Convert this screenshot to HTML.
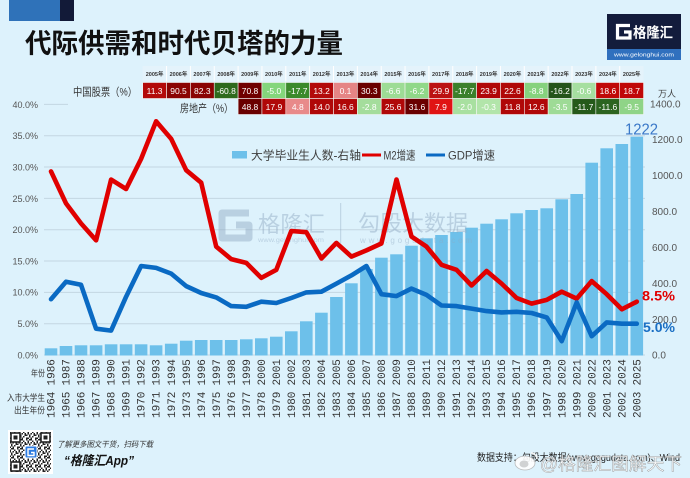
<!DOCTYPE html>
<html><head><meta charset="utf-8"><style>
html,body{margin:0;padding:0;background:#ddf2fc;}
svg{display:block;}
text{font-family:"Liberation Sans","Noto Sans CJK SC",sans-serif;}
.mono{font-family:"Liberation Mono","DejaVu Sans Mono",monospace;font-size:11px;fill:#333;}
.ct{font-size:8.5px;fill:#fff;text-anchor:middle;}
.hd{font-size:5.5px;fill:#333;text-anchor:middle;font-weight:bold;}
.la{font-size:9px;fill:#555;text-anchor:end;}
.ra{font-size:10px;fill:#555;}
</style></head><body>
<svg width="690" height="478" viewBox="0 0 690 478" xmlns="http://www.w3.org/2000/svg">
<rect width="690" height="478" fill="#ddf2fc"/>
<!-- top-left bars -->
<rect x="9" y="0" width="51" height="21" fill="#2f72b9"/>
<rect x="60" y="0" width="14" height="21" fill="#121a38"/>
<!-- title -->
<text x="25" y="53" font-size="27" font-weight="bold" fill="#111" textLength="318" lengthAdjust="spacingAndGlyphs" style="font-family:'Noto Sans CJK SC','WenQuanYi Zen Hei',sans-serif;">代际供需和时代贝塔的力量</text>
<!-- logo -->
<rect x="607" y="14" width="74" height="46" fill="#131c3c"/>
<rect x="607" y="49" width="74" height="11" fill="#3070be"/>
<path d="M630,25.5 H617.5 V38 H630 V32 H624" fill="none" stroke="#fff" stroke-width="3.2"/>
<text x="633" y="37.5" font-size="14" font-weight="bold" fill="#fff" textLength="40" lengthAdjust="spacingAndGlyphs">格隆汇</text>
<text x="614" y="56.5" font-size="5.5" fill="#fff" textLength="60" lengthAdjust="spacingAndGlyphs">www.gelonghui.com</text>

<!-- table header -->
<g>
<rect x="142.7" y="66" width="500.9" height="15.5" fill="#e4f3fb"/>
<g stroke="#ffffff" stroke-width="1">
<line x1="166.55" y1="66" x2="166.55" y2="81.5"/><line x1="190.4" y1="66" x2="190.4" y2="81.5"/><line x1="214.25" y1="66" x2="214.25" y2="81.5"/><line x1="238.1" y1="66" x2="238.1" y2="81.5"/><line x1="261.95" y1="66" x2="261.95" y2="81.5"/><line x1="285.8" y1="66" x2="285.8" y2="81.5"/><line x1="309.65" y1="66" x2="309.65" y2="81.5"/><line x1="333.5" y1="66" x2="333.5" y2="81.5"/><line x1="357.35" y1="66" x2="357.35" y2="81.5"/><line x1="381.2" y1="66" x2="381.2" y2="81.5"/><line x1="405.05" y1="66" x2="405.05" y2="81.5"/><line x1="428.9" y1="66" x2="428.9" y2="81.5"/><line x1="452.75" y1="66" x2="452.75" y2="81.5"/><line x1="476.6" y1="66" x2="476.6" y2="81.5"/><line x1="500.45" y1="66" x2="500.45" y2="81.5"/><line x1="524.3" y1="66" x2="524.3" y2="81.5"/><line x1="548.15" y1="66" x2="548.15" y2="81.5"/><line x1="572" y1="66" x2="572" y2="81.5"/><line x1="595.85" y1="66" x2="595.85" y2="81.5"/><line x1="619.7" y1="66" x2="619.7" y2="81.5"/>
</g>
<text class="hd" x="154.6" y="76">2005年</text><text class="hd" x="178.5" y="76">2006年</text><text class="hd" x="202.3" y="76">2007年</text><text class="hd" x="226.2" y="76">2008年</text><text class="hd" x="250" y="76">2009年</text><text class="hd" x="273.9" y="76">2010年</text><text class="hd" x="297.8" y="76">2011年</text><text class="hd" x="321.6" y="76">2012年</text><text class="hd" x="345.5" y="76">2013年</text><text class="hd" x="369.3" y="76">2014年</text><text class="hd" x="393.2" y="76">2015年</text><text class="hd" x="417" y="76">2016年</text><text class="hd" x="440.9" y="76">2017年</text><text class="hd" x="464.7" y="76">2018年</text><text class="hd" x="488.6" y="76">2019年</text><text class="hd" x="512.5" y="76">2020年</text><text class="hd" x="536.3" y="76">2021年</text><text class="hd" x="560.2" y="76">2022年</text><text class="hd" x="584" y="76">2023年</text><text class="hd" x="607.9" y="76">2024年</text><text class="hd" x="631.7" y="76">2025年</text>
</g>
<!-- row labels -->
<text x="73" y="95.5" font-size="11" fill="#333" textLength="64" lengthAdjust="spacingAndGlyphs">中国股票（%）</text>
<text x="180" y="112" font-size="11" fill="#333" textLength="53" lengthAdjust="spacingAndGlyphs">房地产（%）</text>
<!-- row 1 cells -->
<g stroke="#f4f4f4" stroke-width="0.6">
<rect x="142.7" y="82.5" width="23.85" height="16" fill="#b30a0a"/>
<rect x="166.55" y="82.5" width="23.85" height="16" fill="#8a0303"/>
<rect x="190.4" y="82.5" width="23.85" height="16" fill="#8a0303"/>
<rect x="214.25" y="82.5" width="23.85" height="16" fill="#2d6a1c"/>
<rect x="238.1" y="82.5" width="23.85" height="16" fill="#700000"/>
<rect x="261.95" y="82.5" width="23.85" height="16" fill="#84d67c"/>
<rect x="285.8" y="82.5" width="23.85" height="16" fill="#3b8a2b"/>
<rect x="309.65" y="82.5" width="23.85" height="16" fill="#b30a0a"/>
<rect x="333.5" y="82.5" width="23.85" height="16" fill="#e58585"/>
<rect x="357.35" y="82.5" width="23.85" height="16" fill="#6a0000"/>
<rect x="381.2" y="82.5" width="23.85" height="16" fill="#9ddc95"/>
<rect x="405.05" y="82.5" width="23.85" height="16" fill="#90d889"/>
<rect x="428.9" y="82.5" width="23.85" height="16" fill="#bb1212"/>
<rect x="452.75" y="82.5" width="23.85" height="16" fill="#3b802b"/>
<rect x="476.6" y="82.5" width="23.85" height="16" fill="#b00808"/>
<rect x="500.45" y="82.5" width="23.85" height="16" fill="#b00808"/>
<rect x="524.3" y="82.5" width="23.85" height="16" fill="#86d27e"/>
<rect x="548.15" y="82.5" width="23.85" height="16" fill="#24541a"/>
<rect x="572" y="82.5" width="23.85" height="16" fill="#a6dfa0"/>
<rect x="595.85" y="82.5" width="23.85" height="16" fill="#c00808"/>
<rect x="619.7" y="82.5" width="23.85" height="16" fill="#c00808"/>
<!-- row 2 -->
<rect x="238.1" y="98.5" width="23.85" height="16" fill="#6a0000"/>
<rect x="261.95" y="98.5" width="23.85" height="16" fill="#b00808"/>
<rect x="285.8" y="98.5" width="23.85" height="16" fill="#e88a8a"/>
<rect x="309.65" y="98.5" width="23.85" height="16" fill="#b00808"/>
<rect x="333.5" y="98.5" width="23.85" height="16" fill="#b00808"/>
<rect x="357.35" y="98.5" width="23.85" height="16" fill="#a4dd9c"/>
<rect x="381.2" y="98.5" width="23.85" height="16" fill="#b00808"/>
<rect x="405.05" y="98.5" width="23.85" height="16" fill="#6a0000"/>
<rect x="428.9" y="98.5" width="23.85" height="16" fill="#e01414"/>
<rect x="452.75" y="98.5" width="23.85" height="16" fill="#a8e0a0"/>
<rect x="476.6" y="98.5" width="23.85" height="16" fill="#b2e5aa"/>
<rect x="500.45" y="98.5" width="23.85" height="16" fill="#b00808"/>
<rect x="524.3" y="98.5" width="23.85" height="16" fill="#b00808"/>
<rect x="548.15" y="98.5" width="23.85" height="16" fill="#9edb96"/>
<rect x="572" y="98.5" width="23.85" height="16" fill="#255a1a"/>
<rect x="595.85" y="98.5" width="23.85" height="16" fill="#2c6420"/>
<rect x="619.7" y="98.5" width="23.85" height="16" fill="#8fd487"/>
</g>
<g class="ct">
<text class="ct" x="154.6" y="93.8">11.3</text><text class="ct" x="178.5" y="93.8">90.5</text><text class="ct" x="202.3" y="93.8">82.3</text><text class="ct" x="226.2" y="93.8">-60.8</text><text class="ct" x="250" y="93.8">70.8</text><text class="ct" x="273.9" y="93.8">-5.0</text><text class="ct" x="297.8" y="93.8">-17.7</text><text class="ct" x="321.6" y="93.8">13.2</text><text class="ct" x="345.5" y="93.8">0.1</text><text class="ct" x="369.3" y="93.8">30.3</text><text class="ct" x="393.2" y="93.8">-6.6</text><text class="ct" x="417" y="93.8">-6.2</text><text class="ct" x="440.9" y="93.8">29.9</text><text class="ct" x="464.7" y="93.8">-17.7</text><text class="ct" x="488.6" y="93.8">23.9</text><text class="ct" x="512.5" y="93.8">22.6</text><text class="ct" x="536.3" y="93.8">-8.8</text><text class="ct" x="560.2" y="93.8">-16.2</text><text class="ct" x="584" y="93.8">-0.6</text><text class="ct" x="607.9" y="93.8">18.6</text><text class="ct" x="631.7" y="93.8">18.7</text>
<text class="ct" x="250" y="109.8">48.8</text><text class="ct" x="273.9" y="109.8">17.9</text><text class="ct" x="297.8" y="109.8">4.8</text><text class="ct" x="321.6" y="109.8">14.0</text><text class="ct" x="345.5" y="109.8">16.6</text><text class="ct" x="369.3" y="109.8">-2.8</text><text class="ct" x="393.2" y="109.8">25.6</text><text class="ct" x="417" y="109.8">31.6</text><text class="ct" x="440.9" y="109.8">7.9</text><text class="ct" x="464.7" y="109.8">-2.0</text><text class="ct" x="488.6" y="109.8">-0.3</text><text class="ct" x="512.5" y="109.8">11.8</text><text class="ct" x="536.3" y="109.8">12.6</text><text class="ct" x="560.2" y="109.8">-3.5</text><text class="ct" x="584" y="109.8">-11.7</text><text class="ct" x="607.9" y="109.8">-11.6</text><text class="ct" x="631.7" y="109.8">-9.5</text>
</g>

<!-- gridlines -->
<g stroke="#c3d6e2" stroke-width="1">
<line x1="44" y1="104.4" x2="68" y2="104.4"/>
<line x1="44" y1="135.7" x2="645" y2="135.7"/>
<line x1="44" y1="167.05" x2="645" y2="167.05"/>
<line x1="44" y1="198.4" x2="645" y2="198.4"/>
<line x1="44" y1="229.7" x2="645" y2="229.7"/>
<line x1="44" y1="261" x2="645" y2="261"/>
<line x1="44" y1="292.35" x2="645" y2="292.35"/>
<line x1="44" y1="323.7" x2="645" y2="323.7"/>
<line x1="44" y1="355" x2="645" y2="355"/>
</g>
<!-- left axis -->
<text class="la" x="38" y="108">40.0%</text>
<text class="la" x="38" y="139">35.0%</text>
<text class="la" x="38" y="170.5">30.0%</text>
<text class="la" x="38" y="201.8">25.0%</text>
<text class="la" x="38" y="233">20.0%</text>
<text class="la" x="38" y="264.4">15.0%</text>
<text class="la" x="38" y="295.7">10.0%</text>
<text class="la" x="38" y="327">5.0%</text>
<text class="la" x="38" y="358.4">0.0%</text>
<!-- right axis -->
<text x="658" y="97" font-size="9" fill="#444">万人</text>
<text class="ra" x="650" y="107.5">1400.0</text>
<text class="ra" x="652" y="143">1200.0</text>
<text class="ra" x="652" y="179">1000.0</text>
<text class="ra" x="652" y="215">800.0</text>
<text class="ra" x="652" y="250.8">600.0</text>
<text class="ra" x="652" y="286.8">400.0</text>
<text class="ra" x="652" y="322.8">200.0</text>
<text class="ra" x="652" y="358.6">0.0</text>

<!-- bars -->
<g fill="#6dc0ea">
<rect x="44.7" y="348.3" width="12.6" height="7.2"/>
<rect x="59.7" y="346" width="12.6" height="9.5"/>
<rect x="74.7" y="345.3" width="12.6" height="10.2"/>
<rect x="89.8" y="345.3" width="12.6" height="10.2"/>
<rect x="104.8" y="344.3" width="12.6" height="11.2"/>
<rect x="119.8" y="344.3" width="12.6" height="11.2"/>
<rect x="134.8" y="344.3" width="12.6" height="11.2"/>
<rect x="149.8" y="345.3" width="12.6" height="10.2"/>
<rect x="164.9" y="343.7" width="12.6" height="11.8"/>
<rect x="179.9" y="340.7" width="12.6" height="14.8"/>
<rect x="194.9" y="340" width="12.6" height="15.5"/>
<rect x="209.9" y="340" width="12.6" height="15.5"/>
<rect x="224.9" y="340" width="12.6" height="15.5"/>
<rect x="240" y="339.3" width="12.6" height="16.2"/>
<rect x="255" y="338.3" width="12.6" height="17.2"/>
<rect x="270" y="336.7" width="12.6" height="18.8"/>
<rect x="285" y="331.3" width="12.6" height="24.2"/>
<rect x="300" y="321.3" width="12.6" height="34.2"/>
<rect x="315.1" y="312.7" width="12.6" height="42.8"/>
<rect x="330.1" y="297" width="12.6" height="58.5"/>
<rect x="345.1" y="283.3" width="12.6" height="72.2"/>
<rect x="360.1" y="269" width="12.6" height="86.5"/>
<rect x="375.1" y="257.7" width="12.6" height="97.8"/>
<rect x="390.2" y="254.3" width="12.6" height="101.2"/>
<rect x="405.2" y="245.7" width="12.6" height="109.8"/>
<rect x="420.2" y="238.3" width="12.6" height="117.2"/>
<rect x="435.2" y="235" width="12.6" height="120.5"/>
<rect x="450.2" y="232" width="12.6" height="123.5"/>
<rect x="465.3" y="227.7" width="12.6" height="127.8"/>
<rect x="480.3" y="223.7" width="12.6" height="131.8"/>
<rect x="495.3" y="219.3" width="12.6" height="136.2"/>
<rect x="510.3" y="213.3" width="12.6" height="142.2"/>
<rect x="525.3" y="210" width="12.6" height="145.5"/>
<rect x="540.4" y="208.3" width="12.6" height="147.2"/>
<rect x="555.4" y="199.3" width="12.6" height="156.2"/>
<rect x="570.4" y="194" width="12.6" height="161.5"/>
<rect x="585.4" y="162.7" width="12.6" height="192.8"/>
<rect x="600.4" y="148.3" width="12.6" height="207.2"/>
<rect x="615.5" y="144" width="12.6" height="211.5"/>
<rect x="630.5" y="136.7" width="12.6" height="218.8"/>
</g>

<!-- watermark -->
<g opacity="0.45">
<path d="M249,213 H222 V238 H249 V225 H236" fill="none" stroke="#8fa9c2" stroke-width="7" stroke-linejoin="round"/>
<text x="258" y="232" font-size="22" fill="#8fa9c2" textLength="67" lengthAdjust="spacingAndGlyphs">格隆汇</text>
<text x="258" y="242" font-size="6" fill="#8fa9c2" textLength="66" lengthAdjust="spacingAndGlyphs">www.gelonghui.com</text>
<line x1="340.7" y1="203" x2="340.7" y2="243" stroke="#8fa9c2" stroke-width="1"/>
<text x="358" y="231" font-size="22" fill="#8fa9c2" textLength="110" lengthAdjust="spacingAndGlyphs">勾股大数据</text>
<text x="360" y="243" font-size="8" fill="#8fa9c2" textLength="112" lengthAdjust="spacing">www.gogudata.com</text>
</g>

<!-- lines -->
<polyline fill="none" stroke="#e00000" stroke-width="4.6" stroke-linejoin="round" stroke-linecap="round"
points="51,171.4 66,203.4 81,223.4 96.1,240.3 111.1,179.6 126.1,189 141.1,158.9 156.1,121.3 171.2,138.9 186.2,170.2 201.2,182.7 216.2,246.6 231.2,259.1 246.3,262.9 261.3,277.9 276.3,269.8 291.3,231 306.3,232.2 321.4,258.5 336.4,242.9 351.4,256.6 366.4,250.4 381.4,243.5 396.5,179.5 411.5,236.6 426.5,246.6 441.5,264.8 456.5,269.8 471.6,285.5 486.6,271 501.6,283.6 516.6,298 531.6,303.6 546.7,299.9 561.7,291.7 576.7,298.6 591.7,281.1 606.7,294.2 621.8,309.3 636.8,301.7"/>
<polyline fill="none" stroke="#0a6ac3" stroke-width="4.6" stroke-linejoin="round" stroke-linecap="round"
points="51,299.2 66,281.7 81,284.8 96.1,328.7 111.1,330.6 126.1,296.7 141.1,266 156.1,267.9 171.2,273.6 186.2,286.1 201.2,293 216.2,297.4 231.2,306.1 246.3,306.8 261.3,301.7 276.3,303 291.3,298 306.3,292.4 321.4,291.7 336.4,283.6 351.4,275.4 366.4,266 381.4,294.2 396.5,296.1 411.5,288.6 426.5,294.9 441.5,305.5 456.5,306.1 471.6,308.6 486.6,311.1 501.6,312.4 516.6,311.8 531.6,313 546.7,317.4 561.7,341.2 576.7,302.4 591.7,336.2 606.7,322.4 621.8,323.7 636.8,323.7"/>

<!-- end labels -->
<text x="625" y="134.5" font-size="16" fill="#3a78c8" textLength="33" lengthAdjust="spacingAndGlyphs">1222</text>
<text x="642" y="300.5" font-size="14" font-weight="bold" fill="#e00000" textLength="33" lengthAdjust="spacingAndGlyphs">8.5%</text>
<text x="643" y="331.8" font-size="14" font-weight="bold" fill="#1a6fc4" textLength="32" lengthAdjust="spacingAndGlyphs">5.0%</text>

<!-- legend -->
<rect x="232" y="151" width="15" height="7.5" fill="#6dc0ea"/>
<text x="251" y="159.5" font-size="12" fill="#404040" textLength="110" lengthAdjust="spacingAndGlyphs">大学毕业生人数-右轴</text>
<line x1="362" y1="155" x2="381" y2="155" stroke="#e00000" stroke-width="3"/>
<text x="383.5" y="159.5" font-size="12" fill="#404040" textLength="32" lengthAdjust="spacingAndGlyphs">M2增速</text>
<line x1="426" y1="155" x2="445" y2="155" stroke="#0a6ac3" stroke-width="3"/>
<text x="448" y="159.5" font-size="12" fill="#404040" textLength="47" lengthAdjust="spacingAndGlyphs">GDP增速</text>

<!-- x labels row 1 -->
<g class="mono">
<text class="mono" transform="translate(54.6,385.5) rotate(-90)">1986</text>
<text class="mono" transform="translate(69.6,385.5) rotate(-90)">1987</text>
<text class="mono" transform="translate(84.6,385.5) rotate(-90)">1988</text>
<text class="mono" transform="translate(99.7,385.5) rotate(-90)">1989</text>
<text class="mono" transform="translate(114.7,385.5) rotate(-90)">1990</text>
<text class="mono" transform="translate(129.7,385.5) rotate(-90)">1991</text>
<text class="mono" transform="translate(144.7,385.5) rotate(-90)">1992</text>
<text class="mono" transform="translate(159.7,385.5) rotate(-90)">1993</text>
<text class="mono" transform="translate(174.8,385.5) rotate(-90)">1994</text>
<text class="mono" transform="translate(189.8,385.5) rotate(-90)">1995</text>
<text class="mono" transform="translate(204.8,385.5) rotate(-90)">1996</text>
<text class="mono" transform="translate(219.8,385.5) rotate(-90)">1997</text>
<text class="mono" transform="translate(234.8,385.5) rotate(-90)">1998</text>
<text class="mono" transform="translate(249.9,385.5) rotate(-90)">1999</text>
<text class="mono" transform="translate(264.9,385.5) rotate(-90)">2000</text>
<text class="mono" transform="translate(279.9,385.5) rotate(-90)">2001</text>
<text class="mono" transform="translate(294.9,385.5) rotate(-90)">2002</text>
<text class="mono" transform="translate(309.9,385.5) rotate(-90)">2003</text>
<text class="mono" transform="translate(325,385.5) rotate(-90)">2004</text>
<text class="mono" transform="translate(340,385.5) rotate(-90)">2005</text>
<text class="mono" transform="translate(355,385.5) rotate(-90)">2006</text>
<text class="mono" transform="translate(370,385.5) rotate(-90)">2007</text>
<text class="mono" transform="translate(385,385.5) rotate(-90)">2008</text>
<text class="mono" transform="translate(400.1,385.5) rotate(-90)">2009</text>
<text class="mono" transform="translate(415.1,385.5) rotate(-90)">2010</text>
<text class="mono" transform="translate(430.1,385.5) rotate(-90)">2011</text>
<text class="mono" transform="translate(445.1,385.5) rotate(-90)">2012</text>
<text class="mono" transform="translate(460.1,385.5) rotate(-90)">2013</text>
<text class="mono" transform="translate(475.2,385.5) rotate(-90)">2014</text>
<text class="mono" transform="translate(490.2,385.5) rotate(-90)">2015</text>
<text class="mono" transform="translate(505.2,385.5) rotate(-90)">2016</text>
<text class="mono" transform="translate(520.2,385.5) rotate(-90)">2017</text>
<text class="mono" transform="translate(535.2,385.5) rotate(-90)">2018</text>
<text class="mono" transform="translate(550.3,385.5) rotate(-90)">2019</text>
<text class="mono" transform="translate(565.3,385.5) rotate(-90)">2020</text>
<text class="mono" transform="translate(580.3,385.5) rotate(-90)">2021</text>
<text class="mono" transform="translate(595.3,385.5) rotate(-90)">2022</text>
<text class="mono" transform="translate(610.3,385.5) rotate(-90)">2023</text>
<text class="mono" transform="translate(625.4,385.5) rotate(-90)">2024</text>
<text class="mono" transform="translate(640.4,385.5) rotate(-90)">2025</text>
<!-- row 2 -->
<text class="mono" transform="translate(54.6,418) rotate(-90)">1964</text>
<text class="mono" transform="translate(69.6,418) rotate(-90)">1965</text>
<text class="mono" transform="translate(84.6,418) rotate(-90)">1966</text>
<text class="mono" transform="translate(99.7,418) rotate(-90)">1967</text>
<text class="mono" transform="translate(114.7,418) rotate(-90)">1968</text>
<text class="mono" transform="translate(129.7,418) rotate(-90)">1969</text>
<text class="mono" transform="translate(144.7,418) rotate(-90)">1970</text>
<text class="mono" transform="translate(159.7,418) rotate(-90)">1971</text>
<text class="mono" transform="translate(174.8,418) rotate(-90)">1972</text>
<text class="mono" transform="translate(189.8,418) rotate(-90)">1973</text>
<text class="mono" transform="translate(204.8,418) rotate(-90)">1974</text>
<text class="mono" transform="translate(219.8,418) rotate(-90)">1975</text>
<text class="mono" transform="translate(234.8,418) rotate(-90)">1976</text>
<text class="mono" transform="translate(249.9,418) rotate(-90)">1977</text>
<text class="mono" transform="translate(264.9,418) rotate(-90)">1978</text>
<text class="mono" transform="translate(279.9,418) rotate(-90)">1979</text>
<text class="mono" transform="translate(294.9,418) rotate(-90)">1980</text>
<text class="mono" transform="translate(309.9,418) rotate(-90)">1981</text>
<text class="mono" transform="translate(325,418) rotate(-90)">1982</text>
<text class="mono" transform="translate(340,418) rotate(-90)">1983</text>
<text class="mono" transform="translate(355,418) rotate(-90)">1984</text>
<text class="mono" transform="translate(370,418) rotate(-90)">1985</text>
<text class="mono" transform="translate(385,418) rotate(-90)">1986</text>
<text class="mono" transform="translate(400.1,418) rotate(-90)">1987</text>
<text class="mono" transform="translate(415.1,418) rotate(-90)">1988</text>
<text class="mono" transform="translate(430.1,418) rotate(-90)">1989</text>
<text class="mono" transform="translate(445.1,418) rotate(-90)">1990</text>
<text class="mono" transform="translate(460.1,418) rotate(-90)">1991</text>
<text class="mono" transform="translate(475.2,418) rotate(-90)">1992</text>
<text class="mono" transform="translate(490.2,418) rotate(-90)">1993</text>
<text class="mono" transform="translate(505.2,418) rotate(-90)">1994</text>
<text class="mono" transform="translate(520.2,418) rotate(-90)">1995</text>
<text class="mono" transform="translate(535.2,418) rotate(-90)">1996</text>
<text class="mono" transform="translate(550.3,418) rotate(-90)">1997</text>
<text class="mono" transform="translate(565.3,418) rotate(-90)">1998</text>
<text class="mono" transform="translate(580.3,418) rotate(-90)">1999</text>
<text class="mono" transform="translate(595.3,418) rotate(-90)">2000</text>
<text class="mono" transform="translate(610.3,418) rotate(-90)">2001</text>
<text class="mono" transform="translate(625.4,418) rotate(-90)">2002</text>
<text class="mono" transform="translate(640.4,418) rotate(-90)">2003</text>
</g>
<text x="45" y="376.5" font-size="9" fill="#333" text-anchor="end" textLength="14" lengthAdjust="spacingAndGlyphs">年份</text>
<text x="45" y="401" font-size="9" fill="#333" text-anchor="end" textLength="38" lengthAdjust="spacingAndGlyphs">入市大学生</text>
<text x="45" y="413.5" font-size="9" fill="#333" text-anchor="end" textLength="31" lengthAdjust="spacingAndGlyphs">出生年份</text>

<!-- QR code -->
<defs>
<pattern id="qr" x="8" y="430" width="9" height="9" patternUnits="userSpaceOnUse">
<rect x="0" y="0" width="1.5" height="1.5" fill="#222"/><rect x="3" y="0" width="3" height="1.5" fill="#222"/>
<rect x="1.5" y="1.5" width="1.5" height="3" fill="#222"/><rect x="6" y="1.5" width="1.5" height="1.5" fill="#222"/>
<rect x="4.5" y="3" width="1.5" height="1.5" fill="#222"/><rect x="7.5" y="3" width="1.5" height="3" fill="#222"/>
<rect x="0" y="4.5" width="1.5" height="1.5" fill="#222"/><rect x="3" y="4.5" width="1.5" height="3" fill="#222"/>
<rect x="6" y="6" width="1.5" height="1.5" fill="#222"/><rect x="0" y="7.5" width="3" height="1.5" fill="#222"/>
<rect x="4.5" y="7.5" width="1.5" height="1.5" fill="#222"/>
</pattern>
</defs>
<rect x="8" y="430" width="45" height="44" fill="#fff"/>
<rect x="10" y="432" width="41" height="40" fill="url(#qr)"/>
<g fill="none" stroke="#222" stroke-width="1.6">
<rect x="11" y="433" width="9" height="9" fill="#fff"/><rect x="41" y="433" width="9" height="9" fill="#fff"/><rect x="11" y="462" width="9" height="9" fill="#fff"/>
</g>
<rect x="13.5" y="435.5" width="4" height="4" fill="#222"/><rect x="43.5" y="435.5" width="4" height="4" fill="#222"/><rect x="13.5" y="464.5" width="4" height="4" fill="#222"/>
<rect x="25" y="446" width="12" height="12" rx="1.5" fill="#2d7be0" stroke="#fff" stroke-width="1"/>
<path d="M34,449 H28 V455.5 H34 V452.5 H31" fill="none" stroke="#fff" stroke-width="1.4"/>
<text x="57" y="447" font-size="8" font-style="italic" fill="#333" textLength="96" lengthAdjust="spacingAndGlyphs">了解更多图文干货，扫码下载</text>
<text x="64" y="465" font-size="13" font-weight="bold" font-style="italic" fill="#111" textLength="70" lengthAdjust="spacingAndGlyphs">“格隆汇App”</text>

<!-- source -->
<text x="477" y="461" font-size="10" fill="#222" textLength="203" lengthAdjust="spacingAndGlyphs">数据支持：勾股大数据(www.gogudata.com)、Wind</text>
<!-- weibo watermark -->
<g opacity="0.9">
<ellipse cx="525" cy="463" rx="10" ry="7" fill="#fff" stroke="#b5b5b5" stroke-width="0.8"/>
<ellipse cx="524" cy="464" rx="4.5" ry="3.5" fill="#cfcfcf"/>
<path d="M531,453 a6,6 0 0 1 6,6" fill="none" stroke="#fff" stroke-width="1.5"/>
<text x="540" y="470" font-size="17.5" fill="#ffffff" stroke="#9a9a9a" stroke-width="0.5" textLength="142" lengthAdjust="spacingAndGlyphs">@格隆汇图解天下</text>
</g>
</svg>
</body></html>
